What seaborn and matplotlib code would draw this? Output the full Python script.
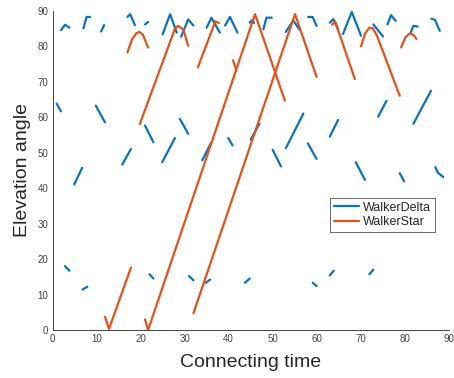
import pandas as pd
import seaborn as sns
import matplotlib.pyplot as plt

# WalkerDelta visibility arcs: (connecting time, elevation angle) per pass
delta_top = [
    ([1.9, 2.8, 3.8], [84.5, 86.0, 85.2]),
    ([7.0, 7.7, 8.5], [85.0, 88.2, 88.2]),
    ([11.0, 11.7], [84.1, 85.9]),
    ([17.0, 17.6, 18.7], [88.2, 89.0, 85.9]),
    ([21.0, 21.7], [86.1, 86.8]),
    ([25.0, 26.7, 28.2], [83.3, 89.0, 83.8]),
    ([29.2, 30.8, 32.0], [82.6, 87.5, 85.8]),
    ([35.0, 36.1, 38.0], [85.2, 88.0, 83.8]),
    ([39.2, 40.3, 42.0], [85.8, 88.2, 83.8]),
    ([44.8, 45.3, 45.8], [86.6, 87.3, 86.5]),
    ([47.9, 48.6, 49.8], [84.7, 88.0, 88.0]),
    ([53.0, 54.7, 56.2], [84.0, 87.2, 84.5]),
    ([58.1, 59.1, 60.0], [88.2, 88.2, 85.7]),
    ([63.0, 63.8, 64.9], [86.6, 87.6, 84.6]),
    ([66.0, 68.0, 70.1], [83.4, 89.6, 82.9]),
    ([72.9, 75.1], [86.1, 82.7]),
    ([76.1, 76.9, 78.0], [86.1, 88.7, 87.1]),
    ([81.4, 82.0, 83.0], [83.8, 85.7, 85.5]),
    ([86.1, 86.9, 88.0], [87.7, 87.4, 84.3]),
]
delta_mid = [
    ([0.9, 1.9], [63.8, 61.6]),
    ([9.8, 11.9], [63.2, 58.5]),
    ([4.9, 6.7], [41.0, 45.7]),
    ([15.8, 17.8], [46.6, 51.0]),
    ([21.0, 22.9], [57.6, 52.9]),
    ([24.9, 27.8], [47.3, 54.1]),
    ([28.9, 30.8], [59.5, 55.3]),
    ([34.0, 36.0], [47.8, 52.7]),
    ([39.9, 40.9], [54.1, 52.0]),
    ([45.0, 47.0], [53.6, 58.1]),
    ([50.0, 51.9], [50.8, 46.1]),
    ([53.0, 57.0], [51.2, 61.0]),
    ([58.0, 60.0], [52.6, 48.2]),
    ([63.0, 64.9], [54.5, 59.2]),
    ([68.9, 71.0], [47.3, 42.3]),
    ([74.0, 75.9], [60.1, 64.6]),
    ([78.9, 79.9], [44.2, 41.9]),
    ([82.0, 86.0], [58.1, 67.4]),
    ([87.0, 87.6, 88.8], [45.9, 44.3, 43.1]),
]
delta_low = [
    ([2.8, 3.8], [18.0, 16.7]),
    ([6.8, 7.9], [11.4, 12.2]),
    ([22.0, 22.9], [15.7, 14.5]),
    ([31.0, 32.0], [15.2, 14.0]),
    ([34.8, 35.8], [13.3, 14.2]),
    ([43.7, 44.8], [13.3, 14.5]),
    ([59.1, 60.0], [13.3, 12.4]),
    ([63.0, 63.9], [15.4, 16.7]),
    ([72.0, 72.9], [15.7, 17.0]),
]

# WalkerStar visibility arcs
star_arcs = [
    ([11.9, 12.8, 17.8], [3.7, 0.3, 17.6]),
    ([21.0, 21.7, 46.0, 52.8], [3.0, 0.0, 89.0, 64.6]),
    ([32.0, 55.1, 60.0], [4.7, 89.0, 71.3]),
    ([17.0, 18.0, 19.0, 19.7, 20.5, 21.7], [78.2, 81.8, 83.6, 84.0, 83.2, 79.6]),
    ([19.8, 27.8, 28.5, 29.7, 30.8], [58.0, 84.9, 85.7, 84.7, 80.1]),
    ([33.0, 37.0, 37.8], [74.0, 87.0, 86.5]),
    ([41.0, 41.8], [76.0, 73.0]),
    ([63.5, 64.2, 68.7], [86.0, 87.0, 70.7]),
    ([70.1, 71.0, 72.0, 72.8, 73.7, 78.9], [79.9, 83.5, 85.2, 85.0, 83.0, 66.0]),
    ([79.2, 80.2, 81.2, 82.0, 82.7], [79.6, 82.5, 83.6, 83.2, 82.0]),
]

series_names = ['WalkerDelta', 'WalkerStar']
series_colors = ['#0A72BE', '#E4521B']

rows = []
seg_id = 0
for name, segs in [('WalkerDelta', delta_top + delta_mid + delta_low),
                   ('WalkerStar', star_arcs)]:
    for xs, ys in segs:
        for x, y in zip(xs, ys):
            rows.append({'t': x, 'elev': y, 'series': name, 'seg': seg_id})
        seg_id += 1
df = pd.DataFrame(rows)

sns.set_style('white')
plt.rcParams['font.family'] = ['Liberation Sans', 'DejaVu Sans']

fig = plt.figure(figsize=(4.54, 3.78), dpi=100)
ax = fig.add_axes([0.116, 0.127, 0.872, 0.845])

sns.lineplot(data=df, x='t', y='elev', hue='series', hue_order=series_names,
             palette=series_colors, units='seg', estimator=None, sort=False,
             linewidth=1.6, ax=ax)

ax.set_xlim(0, 90)
ax.set_ylim(0, 90)
ax.set_xticks(range(0, 91, 10))
ax.set_yticks(range(0, 91, 10))
ax.tick_params(direction='in', length=3.5, width=0.6, colors='#262626',
               labelsize=7, pad=3, labelcolor='#444444')
for side in ['top', 'right']:
    ax.spines[side].set_visible(False)
for side in ['left', 'bottom']:
    ax.spines[side].set_color('#262626')
    ax.spines[side].set_linewidth(0.6)

ax.set_xlabel('Connecting time', fontsize=14, color='#262626', labelpad=7)
ax.set_ylabel('Elevation angle', fontsize=14, color='#262626', labelpad=5)

handles, labels = ax.get_legend_handles_labels()
leg = ax.legend(handles, labels, loc='upper right', bbox_to_anchor=(0.965, 0.413),
                borderaxespad=0, fontsize=9, handlelength=2.0, frameon=True,
                fancybox=False, edgecolor='#262626', borderpad=0.3,
                labelspacing=0.2, handletextpad=0.3)
leg.get_frame().set_linewidth(0.6)

fig.savefig('out.png', dpi=100)
